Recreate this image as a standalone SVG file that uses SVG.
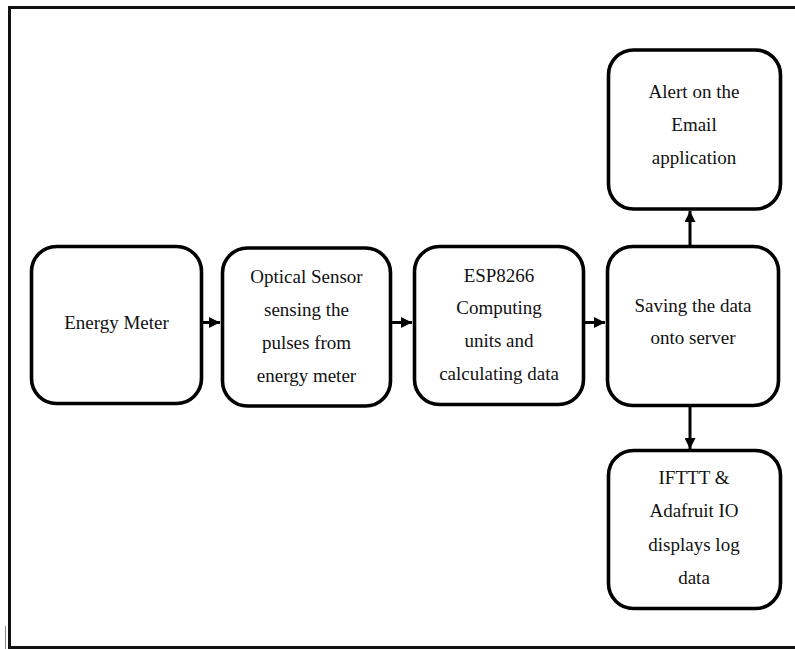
<svg xmlns="http://www.w3.org/2000/svg" width="795" height="649" viewBox="0 0 795 649">
  <defs>
    <style>
      .box { fill: #ffffff; stroke: #000000; stroke-width: 3.6; }
      .lbl { font-family: 'Liberation Serif', 'Times New Roman', Times, serif; font-size: 19px; fill: #111111; text-anchor: middle; }
      .link { stroke: #000000; stroke-width: 3; fill: none; }
      .frame { stroke: #111111; stroke-width: 3; fill: none; }
    </style>
    <marker id="head" viewBox="0 0 10 10" refX="10" refY="5" markerWidth="11" markerHeight="11" markerUnits="userSpaceOnUse" orient="auto">
      <path d="M0,0 L10,5 L0,10 z" fill="#000000"/>
    </marker>
  </defs>

  <rect width="795" height="649" fill="#ffffff"/>

  <!-- page frame -->
  <g id="frame">
    <polyline class="frame" points="795,7.5 9.5,7.5 9.5,647.5 795,647.5"/>
    <line x1="5.5" y1="626" x2="5.5" y2="649" stroke="#888888" stroke-width="1"/>
  </g>

  <!-- connectors -->
  <g id="connectors">
    <line class="link" x1="203" y1="322.5" x2="220" y2="322.5" marker-end="url(#head)"/>
    <line class="link" x1="392" y1="322.5" x2="412" y2="322.5" marker-end="url(#head)"/>
    <line class="link" x1="585" y1="322.5" x2="605" y2="322.5" marker-end="url(#head)"/>
    <line class="link" x1="690" y1="245" x2="690" y2="211" marker-end="url(#head)"/>
    <line class="link" x1="690" y1="407" x2="690" y2="449" marker-end="url(#head)"/>
  </g>

  <g id="energy-meter">
    <rect class="box" x="31.5" y="246.5" width="170" height="157" rx="25"/>
    <text class="lbl" font-family="Liberation Serif, serif" x="116.5" y="329">Energy Meter</text>
  </g>

  <g id="optical-sensor">
    <rect class="box" x="222.5" y="248" width="168" height="158" rx="25"/>
    <text class="lbl" x="306.5" y="283">Optical Sensor</text>
    <text class="lbl" x="306.5" y="316">sensing the</text>
    <text class="lbl" x="306.5" y="349">pulses from</text>
    <text class="lbl" x="306.5" y="382">energy meter</text>
  </g>

  <g id="esp8266">
    <rect class="box" x="414.5" y="246.5" width="169" height="158" rx="25"/>
    <text class="lbl" x="499" y="282">ESP8266</text>
    <text class="lbl" x="499" y="314">Computing</text>
    <text class="lbl" x="499" y="347">units and</text>
    <text class="lbl" x="499" y="380">calculating data</text>
  </g>

  <g id="server">
    <rect class="box" x="607.5" y="246.5" width="171" height="159" rx="25"/>
    <text class="lbl" x="693" y="312">Saving the data</text>
    <text class="lbl" x="693" y="344">onto server</text>
  </g>

  <g id="email-alert">
    <rect class="box" x="608.5" y="50" width="172" height="159" rx="25"/>
    <text class="lbl" x="694" y="98">Alert on the</text>
    <text class="lbl" x="694" y="131">Email</text>
    <text class="lbl" x="694" y="164">application</text>
  </g>

  <g id="ifttt-adafruit">
    <rect class="box" x="608.5" y="450.5" width="172" height="158" rx="25"/>
    <text class="lbl" x="694" y="484">IFTTT &amp;</text>
    <text class="lbl" x="694" y="517">Adafruit IO</text>
    <text class="lbl" x="694" y="551">displays log</text>
    <text class="lbl" x="694" y="584">data</text>
  </g>
</svg>
